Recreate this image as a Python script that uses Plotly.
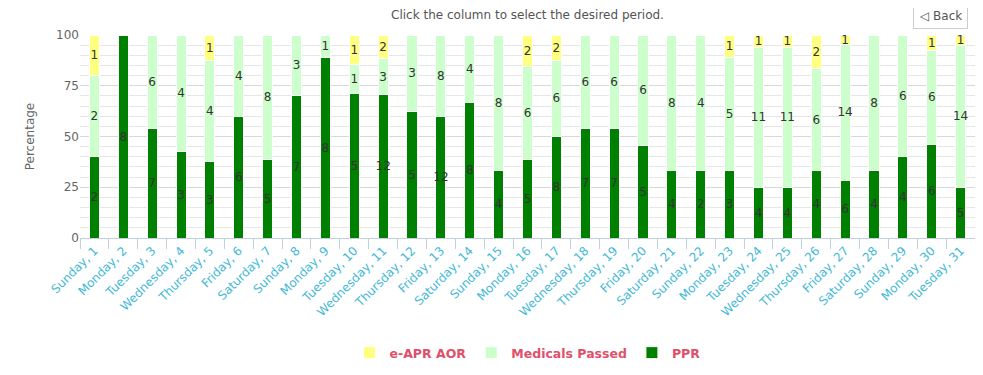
import plotly.graph_objects as go

days = ["Sunday, 1", "Monday, 2", "Tuesday, 3", "Wednesday, 4", "Thursday, 5", "Friday, 6",
        "Saturday, 7", "Sunday, 8", "Monday, 9", "Tuesday, 10", "Wednesday, 11", "Thursday, 12",
        "Friday, 13", "Saturday, 14", "Sunday, 15", "Monday, 16", "Tuesday, 17", "Wednesday, 18",
        "Thursday, 19", "Friday, 20", "Saturday, 21", "Sunday, 22", "Monday, 23", "Tuesday, 24",
        "Wednesday, 25", "Thursday, 26", "Friday, 27", "Saturday, 28", "Sunday, 29", "Monday, 30",
        "Tuesday, 31"]

ppr = [2, 8, 7, 3, 3, 6, 5, 7, 8, 5, 12, 5, 12, 8, 4, 5, 8, 7, 7, 5, 4, 2, 3, 4, 4, 4, 6, 4, 4, 6, 5]
medicals = [2, 0, 6, 4, 4, 4, 8, 3, 1, 1, 3, 3, 8, 4, 8, 6, 6, 6, 6, 6, 8, 4, 5, 11, 11, 6, 14, 8, 6, 6, 14]
aor = [1, 0, 0, 0, 1, 0, 0, 0, 0, 1, 2, 0, 0, 0, 0, 2, 2, 0, 0, 0, 0, 0, 1, 1, 1, 2, 1, 0, 0, 1, 1]

FONT = "DejaVu Sans, Verdana, sans-serif"

W, H = 975, 367
ML, MR, MT, MB = 72, 8, 27, 136
PW, PH = W - ML - MR, H - MT - MB


def txt(vals):
    return [str(v) if v else "" for v in vals]


series = [
    ("PPR", ppr, "#008000"),
    ("Medicals Passed", medicals, "#ccffcc"),
    ("e-APR AOR", aor, "#ffff80"),
]

fig = go.Figure()
for name, vals, color in series:
    fig.add_trace(go.Bar(
        x=days, y=vals, name=name,
        marker=dict(color=color, line=dict(color="#ffffff", width=1)),
        text=txt(vals), textposition="inside", insidetextanchor="middle",
        textangle=0,
        textfont=dict(family=FONT, size=12, color="#333333"),
        hoverinfo="x+y+name",
    ))

fig.update_layout(
    width=W, height=H,
    barmode="stack", barnorm="percent", bargap=0.65,
    paper_bgcolor="#ffffff", plot_bgcolor="#ffffff",
    margin=dict(l=ML, r=MR, t=MT, b=MB),
    font=dict(family=FONT, size=12, color="#555555"),
    uniformtext=dict(minsize=12, mode="show"),
    title=dict(text="Click the column to select the desired period.", x=0.5, xref="paper",
               y=1 - 6.5 / H, yref="container", yanchor="middle",
               font=dict(family=FONT, size=12, color="#555555")),
    legend=dict(orientation="h", x=0.5, xanchor="center", y=-114 / PH, yanchor="middle",
                traceorder="reversed",
                font=dict(family=FONT, size=12.5, color="#e0506a", weight="bold"),
                itemwidth=30),
    showlegend=True,
)

fig.update_xaxes(
    showgrid=False, showline=True, linecolor="#c0d0e0", linewidth=1,
    ticks="outside", tickson="boundaries", ticklen=10, tickcolor="#c0d0e0",
    tickangle=-45, tickfont=dict(family=FONT, size=12, color="#3fb8d8"),
    automargin=False,
)
fig.update_yaxes(
    range=[0, 100], tickvals=[0, 25, 50, 75, 100],
    showgrid=True, gridcolor="#d8d8d8", gridwidth=1,
    minor=dict(dtick=5, showgrid=True, gridcolor="#e6e6e6"),
    zeroline=False, showline=False,
    tickfont=dict(family=FONT, size=12, color="#666666"),
    title=dict(text="Percentage", font=dict(family=FONT, size=12, color="#666666"), standoff=18),
    automargin=False,
)

fig.add_annotation(
    text="◁ Back", xref="paper", yref="paper", x=(932 - ML) / PW, y=1 + (MT - 8) / PH,
    xanchor="center", yanchor="middle", showarrow=False,
    font=dict(family=FONT, size=12, color="#555555"),
    bordercolor="#cccccc", borderwidth=1, borderpad=5, bgcolor="#ffffff",
)

fig.write_html("out.html")
